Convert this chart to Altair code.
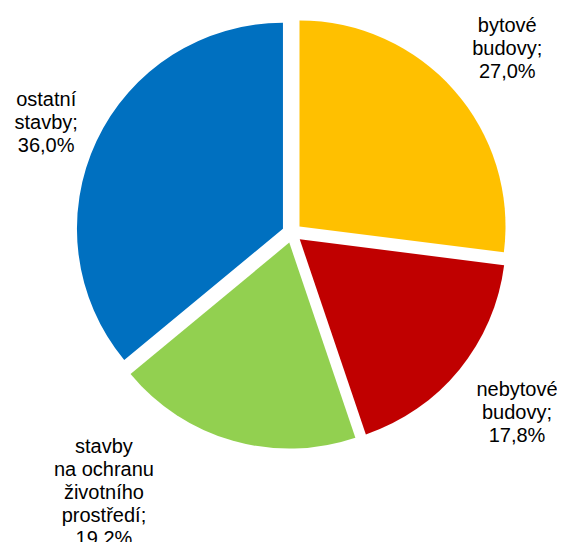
import altair as alt
import pandas as pd

# ---- data ----
categories = [
    "bytové budovy",
    "nebytové budovy",
    "stavby na ochranu životního prostředí",
    "ostatní stavby",
]
label_names = [
    "bytové\nbudovy",
    "nebytové\nbudovy",
    "stavby\nna ochranu\nživotního\nprostředí",
    "ostatní\nstavby",
]
values = [27.0, 17.8, 19.2, 36.0]

# ---- styles ----
colors = ["#FFC000", "#C00000", "#92D050", "#0070C0"]
label_dx = [9, 12, -113, 3]
label_dy = [-19, -11, -45, -10]

W, H = 549, 534
CX, CY = 284, 225          # pie centre in plot coordinates
R = 206                    # pie radius
EXPLODE = 10               # slice explosion distance
LR = 275                   # label radius

df = pd.DataFrame({
    "cat": categories,
    "order": list(range(len(categories))),
    "value": values,
    "label": [n + ";\n" + f"{v:.1f}".replace(".", ",") + "%" for n, v in zip(label_names, values)],
    "ldx": label_dx,
    "ldy": label_dy,
})

base = (
    alt.Chart(df)
    .transform_joinaggregate(total="sum(value)")
    .transform_window(cum="sum(value)", sort=[alt.SortField("order")])
    .transform_calculate(
        t1="2*PI*datum.cum/datum.total",
        t0="2*PI*(datum.cum-datum.value)/datum.total",
    )
    .transform_calculate(mid="(datum.t0+datum.t1)/2")
    .transform_calculate(
        cx=f"{CX}+{EXPLODE}*sin(datum.mid)",
        cy=f"{CY}-{EXPLODE}*cos(datum.mid)",
        lx=f"{CX}+{LR}*sin(datum.mid)+datum.ldx",
        ly=f"{CY}-{LR}*cos(datum.mid)+datum.ldy",
    )
)

arcs = base.mark_arc(radius=R).encode(
    theta=alt.Theta("t0:Q", scale=None, stack=False),
    theta2="t1:Q",
    x=alt.X("cx:Q", scale=None, axis=None, stack=False),
    y=alt.Y("cy:Q", scale=None, axis=None, stack=False),
    color=alt.Color("cat:N", scale=alt.Scale(domain=categories, range=colors), legend=None),
)

labels = base.mark_text(
    font="Liberation Sans", fontSize=20, lineHeight=23, align="center",
    baseline="alphabetic", lineBreak="\n", color="#000000",
).encode(
    x=alt.X("lx:Q", scale=None, axis=None, stack=False),
    y=alt.Y("ly:Q", scale=None, axis=None, stack=False),
    text="label:N",
)

chart = (
    alt.layer(arcs, labels)
    .properties(width=W, height=H, padding=0, autosize=alt.AutoSizeParams(type="none"))
    .configure_view(stroke=None)
)

chart.save("out.html", embed_options={"renderer": "svg", "actions": False})
